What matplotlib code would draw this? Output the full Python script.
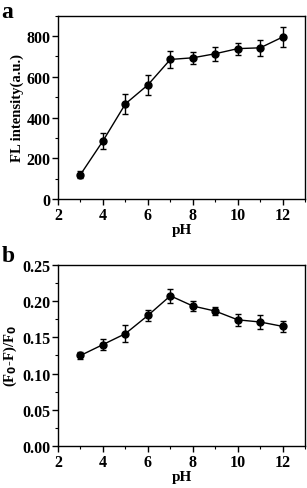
import numpy as np
import matplotlib.pyplot as plt
from matplotlib.ticker import MultipleLocator

ph = [3, 4, 5, 6, 7, 8, 9, 10, 11, 12]
fl = [120, 285, 467, 560, 685, 693, 713, 738, 742, 795]
fl_err = [18, 40, 50, 50, 40, 30, 35, 30, 40, 50]
quench = [0.125, 0.140, 0.155, 0.180, 0.207, 0.193, 0.186, 0.174, 0.171, 0.165]
quench_err = [0.005, 0.008, 0.012, 0.008, 0.010, 0.007, 0.006, 0.008, 0.010, 0.008]

plt.rcParams["font.family"] = "Liberation Serif"
plt.rcParams["font.weight"] = "bold"
plt.rcParams["axes.labelweight"] = "bold"

fig = plt.figure(figsize=(3.07, 4.89), dpi=100)
ax1 = fig.add_axes([0.189, 0.591, 0.805, 0.375])
ax2 = fig.add_axes([0.189, 0.085, 0.805, 0.372])


def style(ax):
    ax.set_xlim(2, 13)
    ax.set_xticks([2, 4, 6, 8, 10, 12])
    ax.xaxis.set_minor_locator(MultipleLocator(1))
    ax.tick_params(which="major", direction="out", length=4, width=1, labelsize=11.5, pad=1.5)
    ax.tick_params(which="minor", direction="out", length=2, width=0.8)
    for s in ax.spines.values():
        s.set_linewidth(1)
    ax.set_xlabel("pH", fontsize=11, labelpad=0)


ax1.errorbar(ph, fl, yerr=fl_err, color="black", marker="o", markersize=5,
             linewidth=1, elinewidth=1, capsize=2.5, capthick=1)
style(ax1)
ax1.set_ylim(0, 900)
ax1.set_yticks([0, 200, 400, 600, 800])
ax1.yaxis.set_minor_locator(MultipleLocator(100))
ax1.set_ylabel("FL intensity(a.u.)", fontsize=10.5, labelpad=2)

ax2.errorbar(ph, quench, yerr=quench_err, color="black", marker="o", markersize=5,
             linewidth=1, elinewidth=1, capsize=2.5, capthick=1)
style(ax2)
ax2.set_ylim(0, 0.25)
ax2.set_yticks(np.arange(0, 0.26, 0.05))
ax2.set_yticklabels(["0.00", "0.05", "0.10", "0.15", "0.20", "0.25"])
ax2.yaxis.set_minor_locator(MultipleLocator(0.025))
ax2.set_ylabel("(F$_\\mathbf{0}$-F)/F$_\\mathbf{0}$", fontsize=10.5, labelpad=2)

fig.text(0.005, 0.995, "a", fontsize=17, fontweight="bold", va="top", ha="left")
fig.text(0.005, 0.497, "b", fontsize=17, fontweight="bold", va="top", ha="left")

fig.savefig("out.png", dpi=100)
